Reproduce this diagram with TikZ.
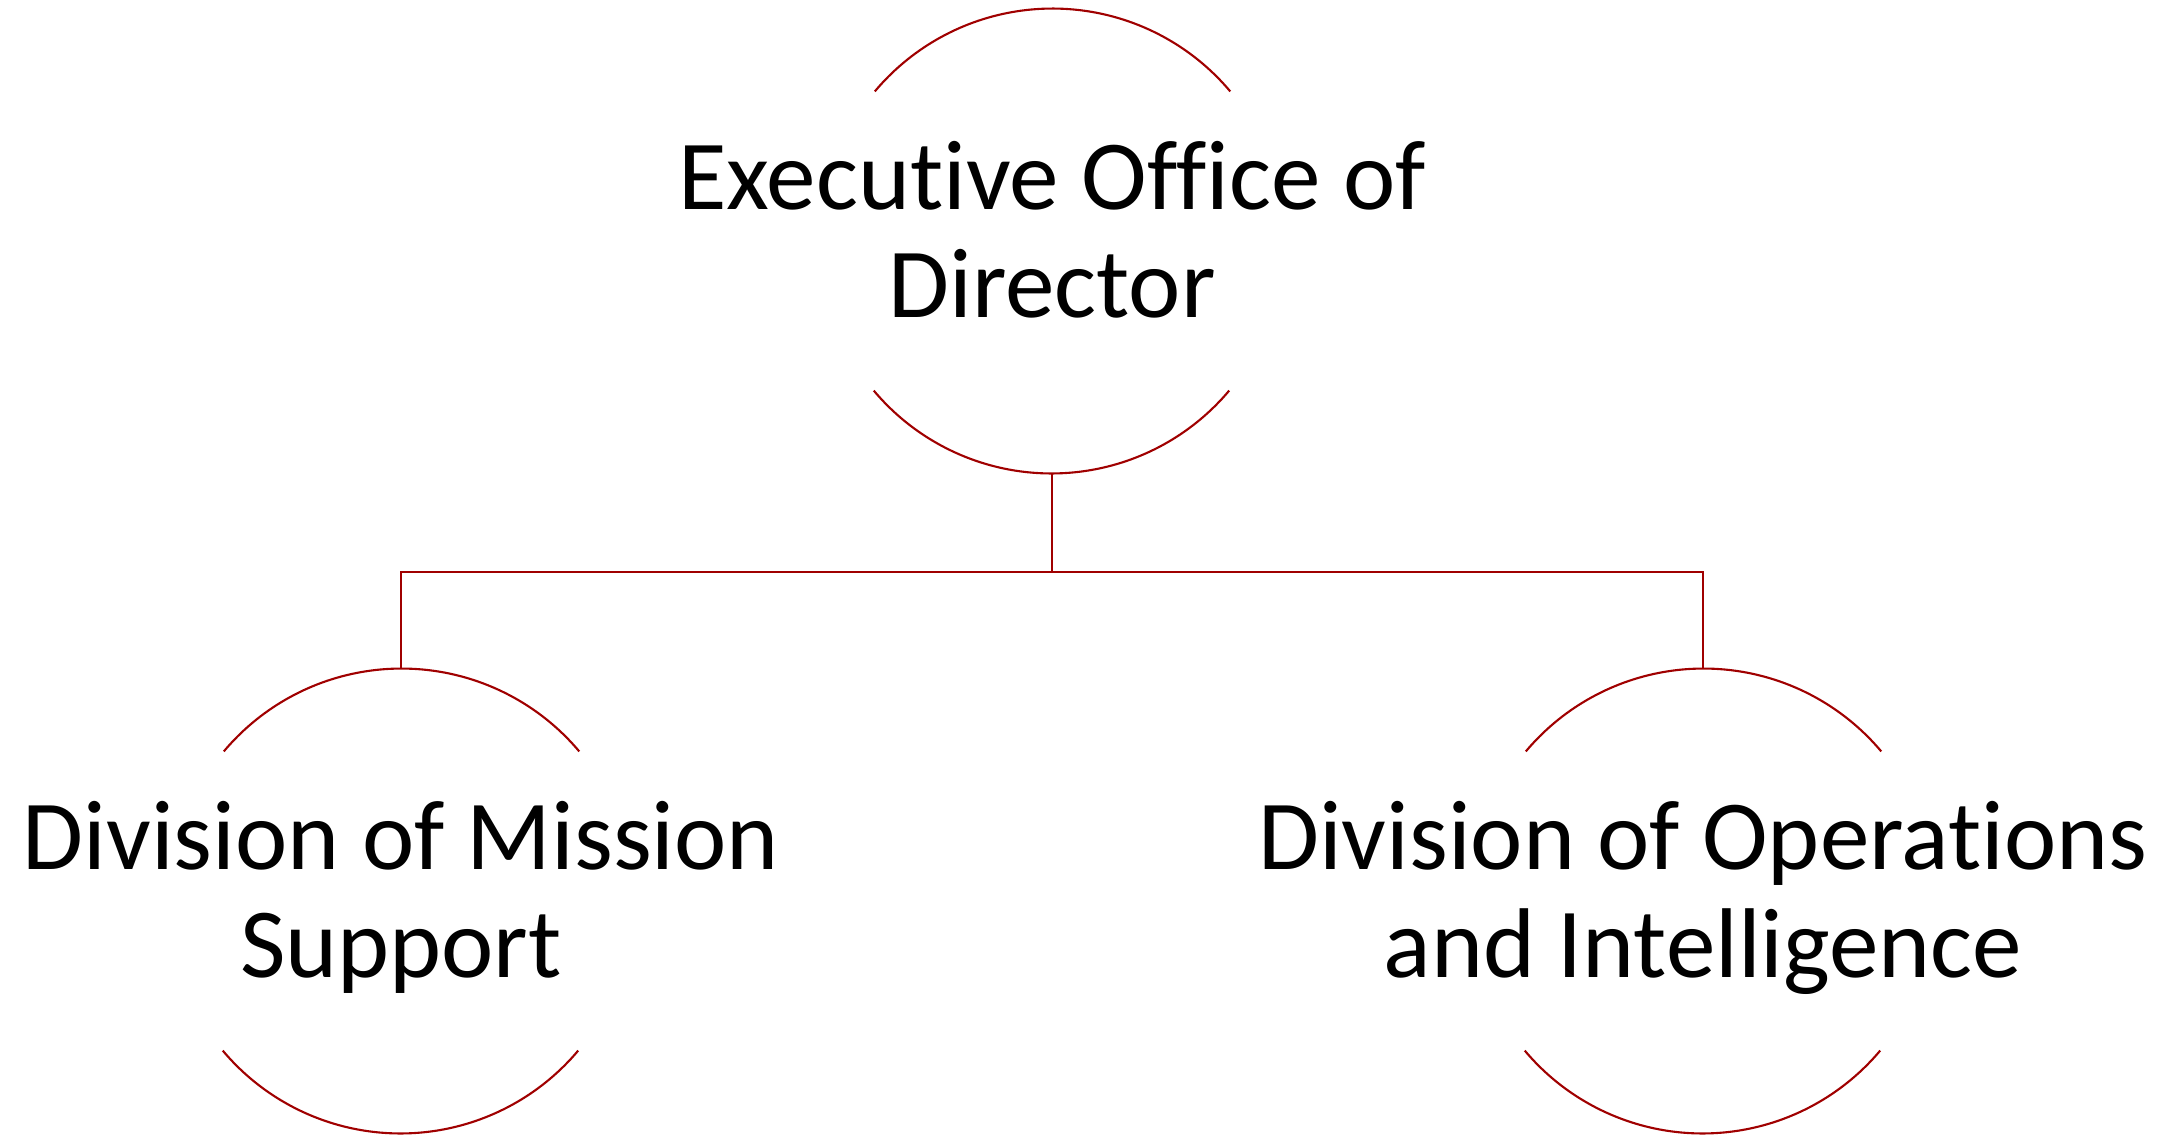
\documentclass[tikz,border=0pt]{standalone}
\usepackage{fontspec}
\setmainfont{Carlito}[Ligatures=NoCommon]
\usepackage{tikz}
\usetikzlibrary{positioning,calc}
\definecolor{orgred}{RGB}{160,0,0}
\tikzset{unit ring/.style={circle, minimum size=4.64cm, inner sep=0pt},
unit text/.style={align=center, inner sep=0pt, yshift=-0.05cm, font=\fontsize{28.2pt}{30.7pt}\selectfont,
execute at begin node=\strut, execute at end node=\strut},
org line/.style={draw=orgred, line width=0.6pt}}

\begin{document}
\begin{tikzpicture}
        \useasboundingbox (0,0) rectangle (21.67,-11.37);
        
        \node[unit ring] (exec) at (10.52, -2.41) {};
        \node[unit ring] (mission) at (4.01, -9.01) {};
        \node[unit ring] (ops) at (17.03, -9.01) {};
        
        \node[unit text] (exectext) at (exec) {Executive Office of\\Director};
        \node[unit text] (missiontext) at (mission) {Division of Mission\\Support};
        \node[unit text] (opstext) at (ops) {Division of Operations\\and Intelligence};
        
        % open arcs above and below each label
        \foreach \n in {exec, mission, ops} {
            \draw[org line] (\n.40) arc (40:140:2.32);
            \draw[org line] (\n.220) arc (220:320:2.32);
        }
        
        \coordinate (fork) at (10.52, -5.717);
        \draw[org line] (exec.south) -- (fork);
        \draw[org line] (mission.north) |- (fork) -| (ops.north);
    \end{tikzpicture}
\end{document}
